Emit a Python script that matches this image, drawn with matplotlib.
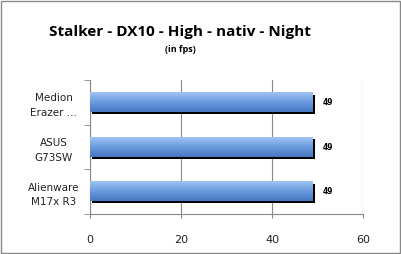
import numpy as np
import matplotlib.pyplot as plt
from matplotlib.colors import LinearSegmentedColormap

labels = ['Alienware\nM17x R3', 'ASUS\nG73SW', 'Medion\nErazer ...']
fps = [49, 49, 49]
ticks = [0, 20, 40, 60]

fig = plt.figure(figsize=(4.01, 2.54), dpi=100)
ax = fig.add_axes([90/401, 1-214/254, 273/401, 134/254])

cmap = LinearSegmentedColormap.from_list('bar', ['#4677c2', '#6a9ade', '#9fc4f3'])
grad = np.linspace(0, 1, 50).reshape(-1, 1)
h = 0.43
for i, v in enumerate(fps):
    # shadow
    ax.barh(i - 0.045, v, height=h, left=0.45, color='black', zorder=2)
    ax.imshow(grad, cmap=cmap, aspect='auto', origin='lower',
              extent=[0, v, i - h/2, i + h/2], zorder=3)
    ax.text(v + 2.2, i, str(v), va='center', ha='left', fontsize=5.5,
            fontweight='bold', family='DejaVu Sans')

ax.set_xlim(0, 60)
ax.set_ylim(-0.5, 2.5)
ax.set_xticks(ticks)
ax.set_xticklabels([str(t) for t in ticks], fontsize=8, color='#222222')
ax.set_yticks(range(len(labels)))
ax.set_yticklabels(labels, fontsize=7.5, color='#222222', ha='center',
                   linespacing=1.6)
ax.tick_params(axis='y', pad=26, length=0)
ax.tick_params(axis='x', pad=12, length=3, color='#888888')
ax.set_yticks([-0.5, 0.5, 1.5, 2.5], minor=True)
ax.tick_params(axis='y', which='minor', length=4, color='#888888')
ax.grid(axis='x', color='#888888', linewidth=0.8, zorder=0)
for s in ['top', 'right']:
    ax.spines[s].set_visible(False)
for s in ['left', 'bottom']:
    ax.spines[s].set_color('#888888')
    ax.spines[s].set_linewidth(0.8)

fig.text(180/401, 1-32/254, 'Stalker - DX10 - High - nativ - Night', ha='center',
         va='center', fontsize=11, fontweight='bold', family='Open Sans')
fig.text(180/401, 1-50/254, '(in fps)', ha='center', va='center', fontsize=6.5,
         fontweight='bold', family='Open Sans')

fig.patches.append(plt.Rectangle((0.002, 0.004), 0.995, 0.992, transform=fig.transFigure,
                                 fill=False, edgecolor='#888888', linewidth=1))
fig.savefig('out.png', dpi=100)
